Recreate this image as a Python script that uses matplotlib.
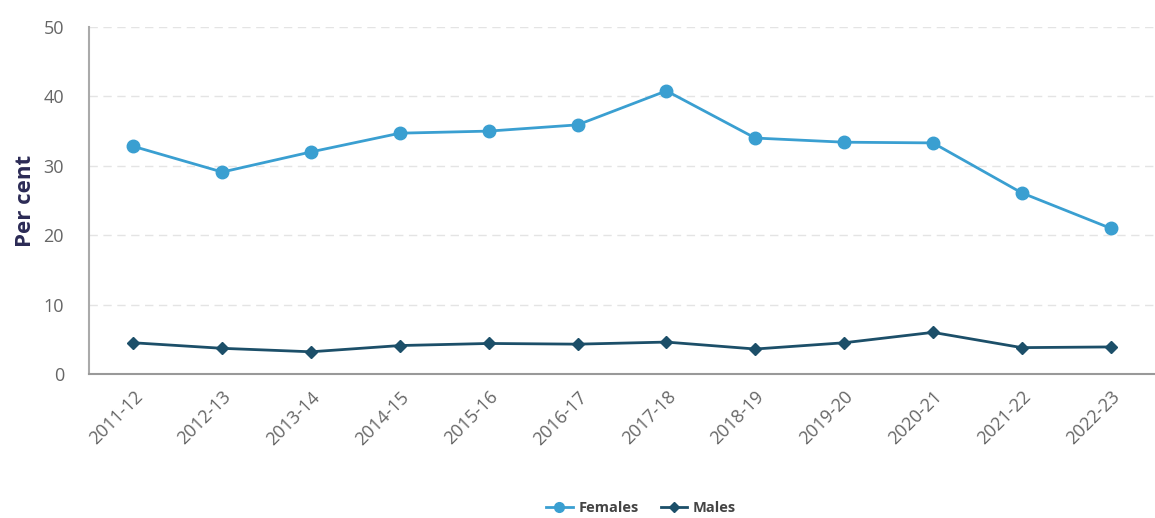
import matplotlib.pyplot as plt
import numpy as np
from matplotlib.lines import Line2D

# data
years = ["2011-12", "2012-13", "2013-14", "2014-15", "2015-16", "2016-17",
         "2017-18", "2018-19", "2019-20", "2020-21", "2021-22", "2022-23"]
females = [32.8, 29.1, 32.0, 34.7, 35.0, 35.9, 40.8, 34.0, 33.4, 33.3, 26.1, 21.0]
males = [4.5, 3.7, 3.2, 4.1, 4.4, 4.3, 4.6, 3.6, 4.5, 6.0, 3.8, 3.9]

plt.rcParams['font.family'] = ['Open Sans', 'DejaVu Sans']

fig = plt.figure(figsize=(11.55, 5.18), dpi=100)
ax = fig.add_axes([89/1155, 1-374/518, (1155-89)/1155, 347/518])

x = np.arange(len(years))
ax.plot(x, females, color="#3a9fd1", lw=2, marker="o", ms=9, label="Females")
ax.plot(x, males, color="#1c4f69", lw=2, marker="D", ms=6, label="Males")

ax.set_ylim(0, 50)
ax.set_xlim(-0.5, 11.5)
ax.set_yticks([0, 10, 20, 30, 40, 50])
ax.set_xticks(x)
ax.set_xticklabels(years, rotation=45, ha="right", rotation_mode="anchor")
ax.tick_params(axis="both", labelsize=13, colors="#666666", length=0)
ax.tick_params(axis="y", pad=18)
ax.tick_params(axis="x", pad=10)
ax.grid(axis="y", color="#e4e4e4", linestyle=(0, (6, 4)), lw=1)
ax.set_axisbelow(True)

for s in ["top", "right"]:
    ax.spines[s].set_visible(False)
ax.spines["left"].set_color("#aaaaaa")
ax.spines["bottom"].set_color("#999999")
ax.spines["left"].set_linewidth(1.5)
ax.spines["bottom"].set_linewidth(1.5)

ax.set_ylabel("Per cent", fontsize=16, fontweight="bold", color="#2b2a55", labelpad=5)

handles = [Line2D([], [], color="#3a9fd1", lw=2, marker="o", ms=7),
           Line2D([], [], color="#1c4f69", lw=2, marker="D", ms=5)]
leg = fig.legend(handles, ["Females", "Males"], loc="lower center",
                 bbox_to_anchor=(0.555, -0.02), ncol=2, frameon=False,
                 handlelength=1.8, columnspacing=1.5, handletextpad=0.4,
                 prop={"weight": "bold", "size": 10.5})
for t in leg.get_texts():
    t.set_color("#444444")

plt.savefig("out.png", dpi=100)
